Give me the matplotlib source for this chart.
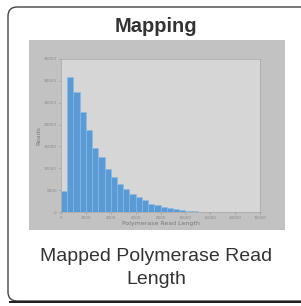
import matplotlib
matplotlib.use("Agg")
import matplotlib.pyplot as plt
from matplotlib.patches import FancyBboxPatch, Rectangle
import numpy as np

title = "Mapping"
caption = "Mapped Polymerase Read\nLength"
xlabel = "Polymerase Read Length"
ylabel = "Reads"
bin_width = 500
bin_starts = [0, 500, 1000, 1500, 2000, 2500, 3000, 3500, 4000, 4500, 5000,
              5500, 6000, 6500, 7000, 7500, 8000, 8500, 9000, 9500, 10000, 10500]
reads = [4900, 30900, 27500, 22800, 18800, 14700, 12500, 9900, 8100, 6300, 5300,
         4100, 3400, 2700, 1800, 1500, 1200, 850, 600, 450, 250, 150]
xticks = [0, 2000, 4000, 6000, 8000, 10000, 12000, 14000, 16000]
yticks = [0, 5000, 10000, 15000, 20000, 25000, 30000, 35000]

fig = plt.figure(figsize=(3.01, 3.06), dpi=100)
W, H = 301, 306

# card (extends past the right edge)
card = FancyBboxPatch((8 / W, 1 - 301 / H), 340 / W, 294 / H,
                      boxstyle="round,pad=0,rounding_size=0.03",
                      transform=fig.transFigure, facecolor="white",
                      edgecolor="#444444", linewidth=1.0, zorder=-3,
                      clip_on=False)
fig.patches.append(card)
fig.patches.append(Rectangle((9 / W, 1 - 303 / H), 340 / W, 2 / H,
                             transform=fig.transFigure, facecolor="#222222",
                             edgecolor="none", zorder=-3))

# thumbnail background
fig.patches.append(Rectangle((29 / W, 1 - 230 / H), 256 / W, 190 / H,
                             transform=fig.transFigure, facecolor="#c2c2c2",
                             edgecolor="none", zorder=-2))

fig.text(156 / W, 1 - 26 / H, title, ha="center", va="center",
         fontsize=14.5, fontweight="bold", color="#333333",
         family="Liberation Sans")
fig.text(156 / W, 1 - 268 / H, caption, ha="center", va="center",
         fontsize=14, color="#333333", family="Liberation Sans",
         linespacing=1.5)

ax = fig.add_axes([61 / W, 1 - 212 / H, 199 / W, 153 / H])
ax.set_facecolor("#d6d6d6")
ax.bar(bin_starts, reads, width=bin_width, align="edge",
       color="#5b9bd5", edgecolor="#8cbbe6", linewidth=0.4)
ax.set_xlim(0, 16000)
ax.set_ylim(0, 35000)
ax.set_xticks(xticks)
ax.set_yticks(yticks)
ax.tick_params(labelsize=3, colors="#8a8a8a", length=1.5, width=0.4, pad=1.5)
for s in ax.spines.values():
    s.set_color("#a8a8a8")
    s.set_linewidth(0.5)
ax.set_xlabel(xlabel, fontsize=4.5, color="#7a7a7a", labelpad=0.5)
ax.set_ylabel(ylabel, fontsize=4.5, color="#7a7a7a", labelpad=2)

fig.savefig("out.png", dpi=100)
